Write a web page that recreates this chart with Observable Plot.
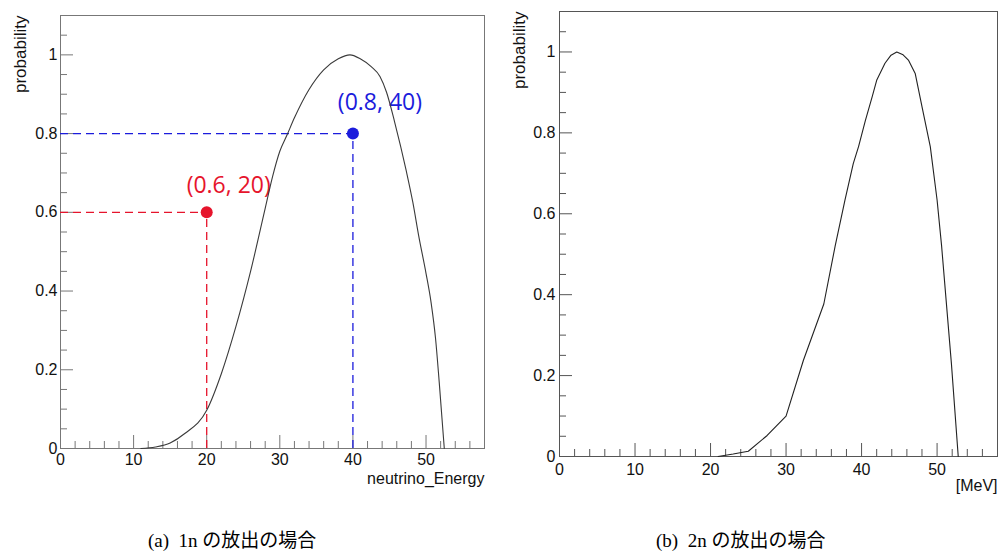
<!DOCTYPE html>
<html><head><meta charset="utf-8">
<script src="https://cdn.jsdelivr.net/npm/d3@7"></script>
<script src="https://cdn.jsdelivr.net/npm/@observablehq/plot@0.6"></script>
<style>
html,body{margin:0;padding:0;background:#fff;}
#wrap{position:relative;width:1001px;height:551px;overflow:hidden;background:#fff;}
.panel{position:absolute;top:0;}
.cap{position:absolute;font-family:"Liberation Serif","Noto Sans CJK JP",serif;font-size:19px;line-height:22px;white-space:pre;color:#000;}
</style></head><body>
<div id="wrap">
<div id="a" class="panel" style="left:0"></div>
<div id="b" class="panel" style="left:500px"></div>
<div class="cap" style="left:148px;top:530px">(a)  1n の放出の場合</div>
<div class="cap" style="left:656px;top:530px">(b)  2n の放出の場合</div>
</div>
<script>
// 1n spectrum (left)
const energy1n = [11, 13, 15, 17, 20, 22, 24, 26, 28, 29, 30, 31, 32, 34, 36, 38, 39.6, 41, 42.5, 43.7, 44.6, 45.7, 47.3, 48.2, 49, 50, 50.7, 51.3, 51.8, 52.5];
const prob1n   = [0, 0.004, 0.014, 0.038, 0.097, 0.19, 0.31, 0.45, 0.61, 0.69, 0.755, 0.797, 0.84, 0.912, 0.962, 0.99, 1.0, 0.99, 0.97, 0.945, 0.905, 0.83, 0.705, 0.625, 0.54, 0.445, 0.37, 0.28, 0.17, 0];
// 2n spectrum (right)
const energy2n = [21, 23, 25, 27.5, 30, 32.3, 35, 36.5, 37.8, 38.9, 39.6, 40.5, 41.4, 42, 43.1, 43.9, 44.66, 45.5, 46.2, 47.1, 48, 49.1, 50, 50.6, 51.9, 52.8];
const prob2n   = [0, 0.006, 0.013, 0.052, 0.1, 0.238, 0.377, 0.52, 0.634, 0.724, 0.766, 0.83, 0.889, 0.93, 0.972, 0.992, 1.0, 0.993, 0.98, 0.947, 0.865, 0.766, 0.634, 0.52, 0.229, 0];

const xMajor = [0, 10, 20, 30, 40, 50];
const xMinor = [2, 4, 6, 8, 12, 14, 16, 18, 22, 24, 26, 28, 32, 34, 36, 38, 42, 44, 46, 48, 52, 54, 56];
const yMajor = [0, 0.2, 0.4, 0.6, 0.8, 1];
const yTickLabels = ["0", "0.2", "0.4", "0.6", "0.8", "1"];
const yMinor = [0.05, 0.1, 0.15, 0.25, 0.3, 0.35, 0.45, 0.5, 0.55, 0.65, 0.7, 0.75, 0.85, 0.9, 0.95, 1.05];

const markEnergy = [20, 40];
const markProb = [0.6, 0.8];
const markLabels = ["(0.6, 20)", "(0.8, 40)"];
const markColors = ["#e6142c", "#1c1cdc"];

function panel(el, cfg) {
  const {xs, ys, W, H, mt, mr, mb, ml, stroke, curveColor, xLabel, xPad, yPad, xLabelDy, curve, extra} = cfg;
  const iw = W - ml - mr, ih = H - mt - mb;
  const data = xs.map((v, i) => ({e: v, p: ys[i]}));
  const marks = [
    Plot.frame({stroke, strokeWidth: 1}),
    Plot.tickX(xMajor, {x: d => d, stroke, insetTop: ih - 13}),
    Plot.tickX(xMinor, {x: d => d, stroke, insetTop: ih - 7}),
    Plot.tickY(yMajor, {y: d => d, stroke, insetRight: iw - 13}),
    Plot.tickY(yMinor, {y: d => d, stroke, insetRight: iw - 7}),
    Plot.axisX(xMajor, {tickSize: 0, tickPadding: xPad, tickFormat: d => String(d), fontSize: 16, label: null, fill: "#111"}),
    Plot.axisY(yMajor, {tickSize: 0, tickPadding: yPad, tickFormat: d => yTickLabels[yMajor.indexOf(d)], fontSize: 16, label: null, fill: "#111"}),
    ...(extra || []),
    Plot.line(data, {x: "e", y: "p", stroke: curveColor, strokeWidth: 1.1, curve}),
    Plot.text([xLabel], {frameAnchor: "bottom-right", textAnchor: "end", lineAnchor: "bottom", dy: xLabelDy, fontSize: 16, fill: "#111"}),
    Plot.text(["probability"], {frameAnchor: "top-left", rotate: -90, textAnchor: "end", lineAnchor: "middle", dx: -40, fontSize: 17, fill: "#111"})
  ];
  const chart = Plot.plot({
    width: W, height: H,
    marginTop: mt, marginRight: mr, marginBottom: mb, marginLeft: ml,
    x: {domain: [0, 58], axis: null},
    y: {domain: [0, 1.1], axis: null},
    style: {fontFamily: "'Liberation Sans', Arial, sans-serif", fontSize: "16px", background: "white", color: "#111"},
    marks
  });
  document.getElementById(el).appendChild(chart);
}

const pts = markEnergy.map((e, i) => ({e, p: markProb[i], label: markLabels[i], color: markColors[i]}));
const annot = [];
pts.forEach((d, i) => {
  annot.push(Plot.ruleY([d], {y: "p", x1: 0, x2: "e", stroke: d.color, strokeWidth: 1.3, strokeDasharray: "8,5"}));
  annot.push(Plot.ruleX([d], {x: "e", y1: 0, y2: "p", stroke: d.color, strokeWidth: 1.3, strokeDasharray: "8,5"}));
  annot.push(Plot.dot([d], {x: "e", y: "p", r: 6, fill: d.color, stroke: null}));
  annot.push(Plot.text([d], {x: "e", y: "p", text: "label", fill: d.color, fontSize: 23, fontFamily: "'Open Sans', sans-serif",
    textAnchor: "middle", lineAnchor: "bottom", dx: i === 0 ? 22 : 27, dy: i === 0 ? -19 : -24}));
});

panel("a", {xs: energy1n, ys: prob1n, W: 500, H: 500, mt: 15, mr: 16, mb: 52, ml: 60,
  stroke: "#777", curveColor: "#3a3a3a", xLabel: "neutrino_Energy", xPad: 5, yPad: 3, xLabelDy: 35, curve: "monotone-x", extra: annot});
panel("b", {xs: energy2n, ys: prob2n, W: 501, H: 500, mt: 11, mr: 4, mb: 44, ml: 59,
  stroke: "#555", curveColor: "#222", xLabel: "[MeV]", xPad: 7, yPad: 4, xLabelDy: 34, curve: "linear"});
</script>
</body></html>
